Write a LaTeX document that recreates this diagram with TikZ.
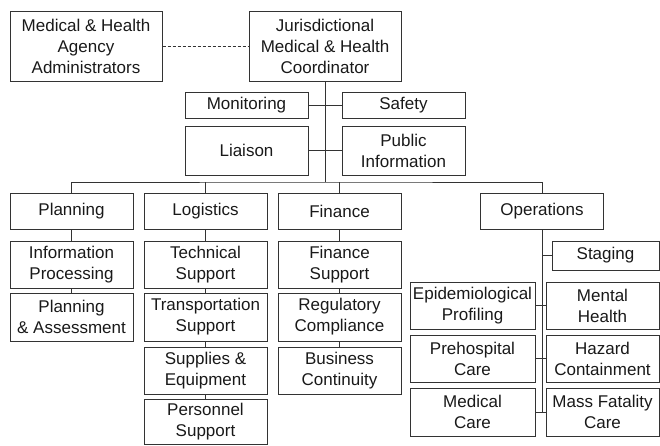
\documentclass[tikz,border=0pt]{standalone}
\usepackage{fontspec}
\setmainfont{Liberation Sans}
\tikzset{
  unit/.style={draw=black!80, text=black!90, line width=1pt, align=center,
    inner sep=0pt, minimum width=123pt, font=\fontsize{17}{21}\selectfont},
  link/.style={draw=black!80, line width=1pt}
}

\begin{document}
\begin{tikzpicture}[x=1pt, y=-1pt]
        \useasboundingbox (0,0) rectangle (660,445);
        % Command
        \node [unit, minimum width=152pt, minimum height=70pt] (admin) at (86,46) {Medical \& Health\\Agency\\Administrators};
        \node [unit, minimum width=152pt, minimum height=70pt] (coord) at (325,46) {Jurisdictional\\Medical \& Health\\Coordinator};
        \node [unit, minimum height=26pt] (monitor) at (246.5,105) {Monitoring};
        \node [unit, minimum height=26pt] (safety) at (403.5,105) {Safety};
        \node [unit, minimum height=49pt] (liaison) at (246.5,150.5) {Liaison};
        \node [unit, minimum height=49pt] (pubinfo) at (403.5,150.5) {Public\\Information};
        \coordinate (bus) at (325,182);
        % Sections
        \node [unit, minimum height=36pt] (planning) at (71.5,211) {Planning};
        \node [unit, minimum height=36pt] (logistics) at (205.5,211) {Logistics};
        \node [unit, minimum height=36pt] (finance) at (339.5,211) {Finance};
        \node [unit, minimum height=36pt] (operations) at (542,211) {Operations};
        % Planning
        \node [unit, minimum height=47pt] (infoproc) at (71.5,264.5) {Information\\Processing};
        \node [unit, minimum height=48pt] (assess) at (71.5,317) {Planning\\\& Assessment};
        % Logistics
        \node [unit, minimum height=47pt] (techsup) at (205.5,264.5) {Technical\\Support};
        \node [unit, minimum height=48pt] (transport) at (205.5,317) {Transportation\\Support};
        \node [unit, minimum height=47pt] (supplies) at (205.5,370.5) {Supplies \&\\Equipment};
        \node [unit, minimum height=45pt] (personnel) at (205.5,421.5) {Personnel\\Support};
        % Finance
        \node [unit, minimum height=47pt] (finsup) at (339.5,264.5) {Finance\\Support};
        \node [unit, minimum height=48pt] (regulatory) at (339.5,317) {Regulatory\\Compliance};
        \node [unit, minimum height=47pt] (business) at (339.5,370.5) {Business\\Continuity};
        % Operations
        \node [unit, minimum width=107pt, minimum height=29pt] (staging) at (605.5,255.5) {Staging};
        \node [unit, minimum width=125pt, minimum height=47pt] (epidem) at (472.5,305.5) {Epidemiological\\Profiling};
        \node [unit, minimum width=125pt, minimum height=47pt] (prehosp) at (472.5,358.5) {Prehospital\\Care};
        \node [unit, minimum width=125pt, minimum height=48pt] (medcare) at (472.5,412) {Medical\\Care};
        \node [unit, minimum width=113pt, minimum height=47pt] (mental) at (602.5,305.5) {Mental\\Health};
        \node [unit, minimum width=113pt, minimum height=47pt] (hazard) at (602.5,358.5) {Hazard\\Containment};
        \node [unit, minimum width=113pt, minimum height=48pt] (fatality) at (602.5,412) {Mass Fatality\\Care};
        % Lines
        \draw [link, dash pattern=on 3pt off 2pt] (admin) -- (coord);
        \draw [link] (coord.south) -- (bus);
        \draw [link] (monitor) -- (safety);
        \draw [link] (liaison) -- (pubinfo);
        \draw [link] (planning.north) |- (bus) -| (operations.north);
        \draw [link] (logistics.north) -- (logistics.north |- bus);
        \draw [link] (finance.north) -- (finance.north |- bus);
            \foreach \a/\b in {planning/infoproc, infoproc/assess,
                logistics/techsup, techsup/transport, transport/supplies, supplies/personnel,
                finance/finsup, finsup/regulatory, regulatory/business}
        {
        \draw [link] (\a) -- (\b);
        }
        \draw [link] (operations.south) -- (operations.south |- medcare.east);
        \draw [link] (staging.west) -- (staging.west -| operations.south);
            \foreach \a/\b in {epidem/mental, prehosp/hazard, medcare/fatality}
        {
        \draw [link] (\a) -- (\b);
        }
\end{tikzpicture}
\end{document}
